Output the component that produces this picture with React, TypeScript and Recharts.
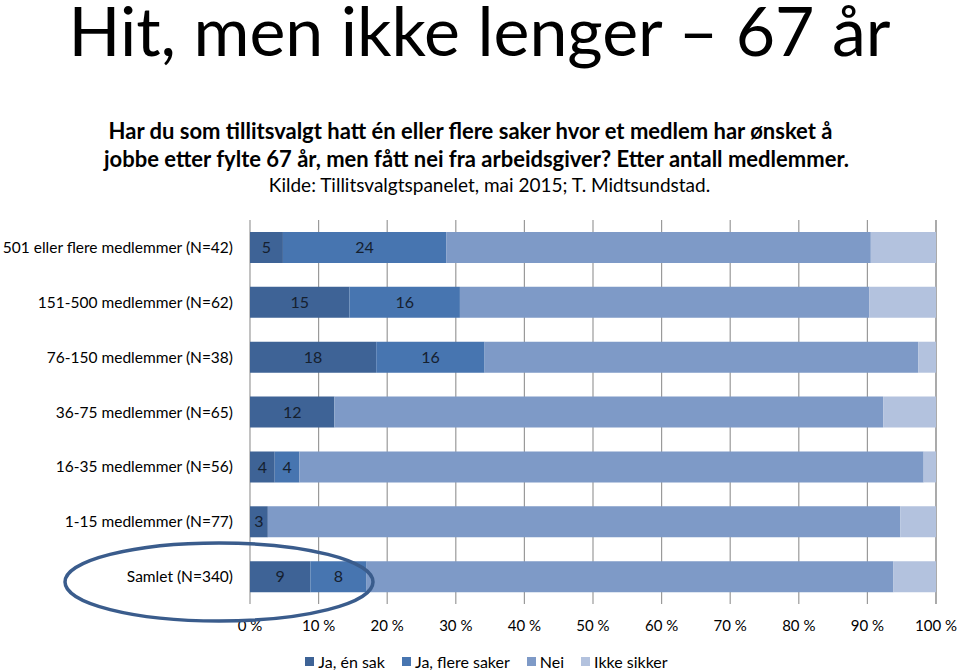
import React from "react";
import {
  BarChart,
  Bar,
  XAxis,
  YAxis,
  CartesianGrid,
  Legend,
  LabelList,
} from "recharts";

const categories = [
  "501 eller flere medlemmer (N=42)",
  "151-500 medlemmer (N=62)",
  "76-150 medlemmer (N=38)",
  "36-75 medlemmer (N=65)",
  "16-35 medlemmer (N=56)",
  "1-15 medlemmer (N=77)",
  "Samlet (N=340)",
];
const jaEnSak = [4.8, 14.5, 18.4, 12.3, 3.6, 2.6, 8.8];
const jaFlereSaker = [23.8, 16.1, 15.8, 0, 3.6, 0, 8.2];
const nei = [61.9, 59.7, 63.2, 80.0, 91.0, 92.2, 76.8];
const ikkeSikker = [9.5, 9.7, 2.6, 7.7, 1.8, 5.2, 6.2];
const xTicks = [0, 10, 20, 30, 40, 50, 60, 70, 80, 90, 100];
const seriesNames = ["Ja, én sak", "Ja, flere saker", "Nei", "Ikke sikker"];
const seriesColors = ["#3E6396", "#4775B0", "#7E9AC7", "#B3C2DE"];

const data = categories.map((name, i) => ({
  name,
  a: jaEnSak[i],
  b: jaFlereSaker[i],
  c: nei[i],
  d: ikkeSikker[i],
}));

const FONT = "Lato, 'Open Sans', sans-serif";

const fmt = (v: any) => {
  const n = Number(v);
  if (!n) return "";
  return String(Math.round(n));
};

const LegendContent = () => (
  <div
    style={{
      display: "flex",
      justifyContent: "center",
      fontFamily: FONT,
      fontSize: 16,
      color: "#000",
      paddingLeft: 54,
      paddingTop: 12,
    }}
  >
    {seriesNames.map((n, i) => (
      <div key={n} style={{ display: "flex", alignItems: "center", marginRight: 17 }}>
        <span
          style={{
            display: "inline-block",
            width: 9,
            height: 9,
            background: seriesColors[i],
            marginRight: 4,
          }}
        />
        <span>{n}</span>
      </div>
    ))}
  </div>
);

export default function App() {
  return (
    <div
      style={{
        position: "absolute",
        left: 0,
        top: 0,
        width: 959,
        height: 671,
        background: "#fff",
        overflow: "hidden",
      }}
    >
      <div
        style={{
          position: "absolute",
          left: 0,
          top: 0,
          width: 959,
          textAlign: "center",
          fontFamily: FONT,
          fontSize: 68,
          lineHeight: "60px",
          color: "#000",
        }}
      >
        Hit, men ikke lenger – 67 år
      </div>
      <div
        style={{
          position: "absolute",
          left: 0,
          top: 117,
          width: 959,
          textAlign: "center",
          fontFamily: FONT,
          fontSize: 22,
          lineHeight: "28px",
          fontWeight: 700,
          color: "#000",
        }}
      >
        <div style={{ marginLeft: -18 }}>
          Har du som tillitsvalgt hatt én eller flere saker hvor et medlem har ønsket å
        </div>
        <div style={{ marginLeft: -6 }}>
          jobbe etter fylte 67 år, men fått nei fra arbeidsgiver? Etter antall medlemmer.
        </div>
        <div style={{ fontWeight: 400, fontSize: 19, lineHeight: "24px", marginLeft: 20 }}>
          Kilde: Tillitsvalgtspanelet, mai 2015; T. Midtsundstad.
        </div>
      </div>

      <div style={{ position: "absolute", left: 0, top: 0 }}>
        <BarChart
          width={959}
          height={671}
          data={data}
          layout="vertical"
          barSize={31}
          margin={{ top: 220, right: 23, bottom: 0, left: 0 }}
        >
          <CartesianGrid horizontal={false} vertical stroke="#9A9A9A" strokeWidth={1.2} />
          <XAxis
            type="number"
            domain={[0, 100]}
            ticks={xTicks}
            tickFormatter={(v: number) => `${v} %`}
            axisLine={false}
            tickLine={false}
            tickMargin={10}
            height={36}
            tick={{ fontFamily: FONT, fontSize: 15, fill: "#000" }}
            interval={0}
          />
          <YAxis
            type="category"
            dataKey="name"
            width={250}
            axisLine={false}
            tickLine={false}
            tickMargin={11}
            interval={0}
            tick={{ fontFamily: FONT, fontSize: 15.5, fill: "#000" }}
          />
          <Legend verticalAlign="bottom" height={31} content={<LegendContent />} />
          <Bar dataKey="a" name={seriesNames[0]} stackId="s" fill={seriesColors[0]} isAnimationActive={false}>
            <LabelList
              dataKey="a"
              position="center"
              formatter={fmt}
              style={{ fontFamily: FONT, fontSize: 16, fill: "#15202F" }}
            />
          </Bar>
          <Bar dataKey="b" name={seriesNames[1]} stackId="s" fill={seriesColors[1]} isAnimationActive={false}>
            <LabelList
              dataKey="b"
              position="center"
              formatter={fmt}
              style={{ fontFamily: FONT, fontSize: 16, fill: "#15202F" }}
            />
          </Bar>
          <Bar dataKey="c" name={seriesNames[2]} stackId="s" fill={seriesColors[2]} isAnimationActive={false} />
          <Bar dataKey="d" name={seriesNames[3]} stackId="s" fill={seriesColors[3]} isAnimationActive={false} />
        </BarChart>
      </div>

      <svg
        width={959}
        height={671}
        style={{ position: "absolute", left: 0, top: 0, pointerEvents: "none" }}
      >
        <ellipse cx={219} cy={582} rx={154} ry={39} fill="none" stroke="#3A5C8C" strokeWidth={3.5} />
      </svg>
    </div>
  );
}
